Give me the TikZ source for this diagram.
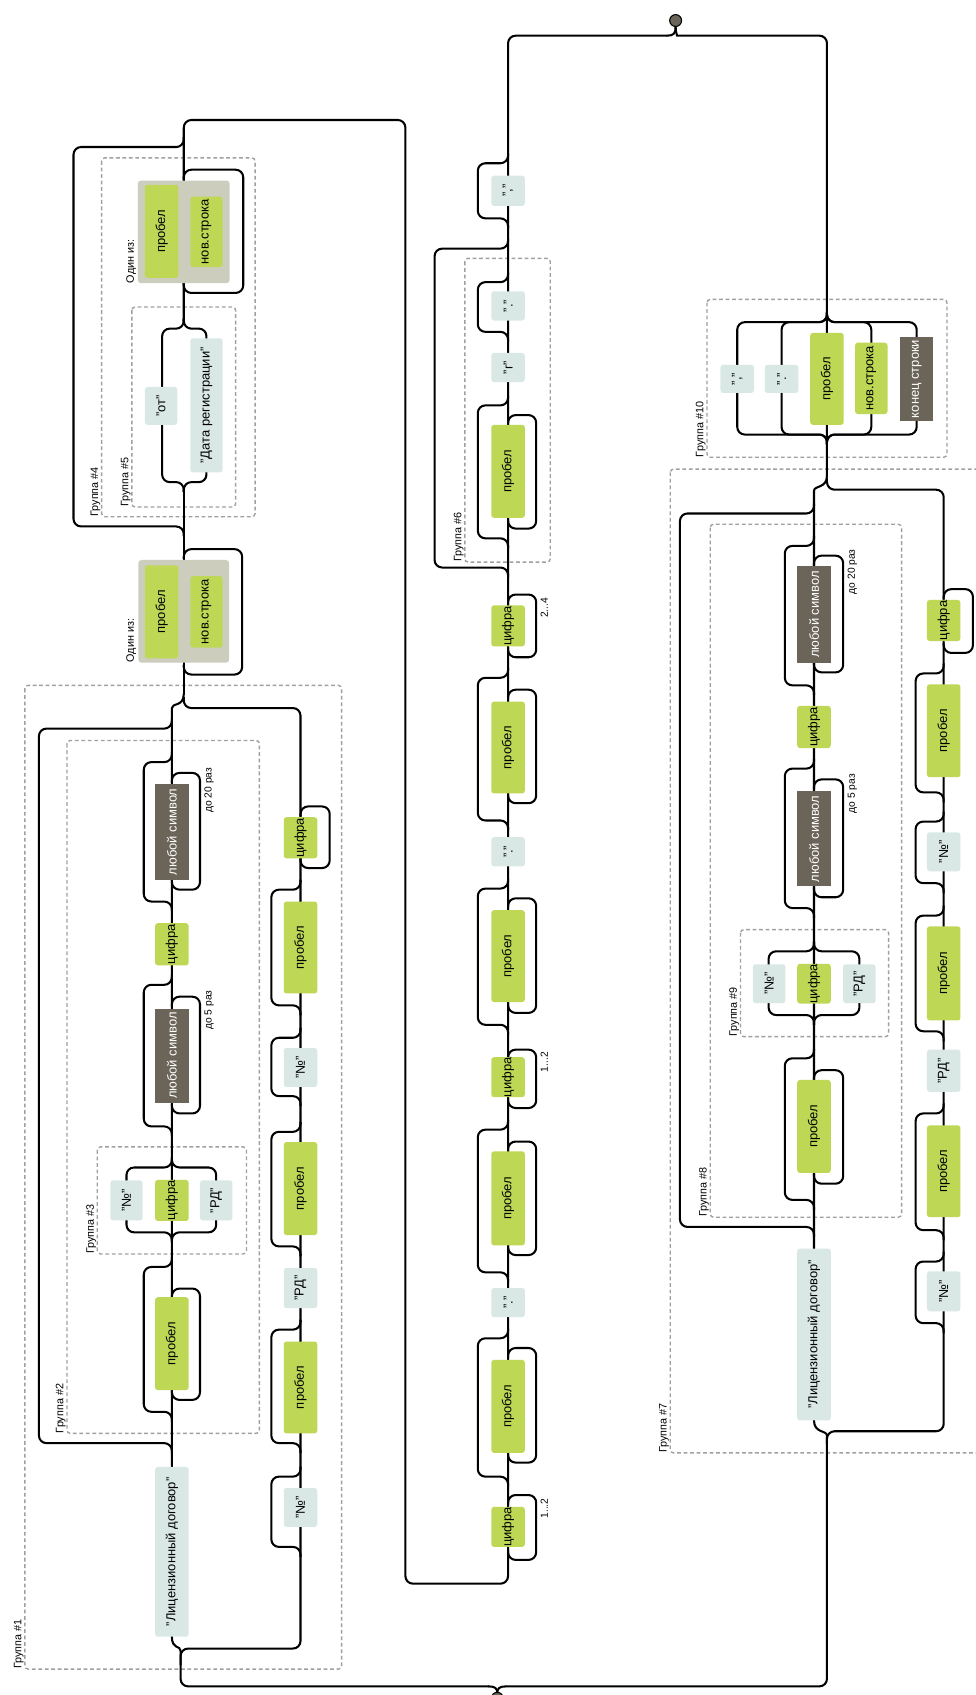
\documentclass[tikz,border=0pt]{standalone}
\usepackage{fontspec}
\setmainfont{Liberation Sans}
\usepackage{graphicx}
\definecolor{grn}{RGB}{190,215,85}
\definecolor{lit}{RGB}{218,232,229}
\definecolor{drk}{RGB}{107,100,88}
\definecolor{onebg}{RGB}{205,205,190}
\definecolor{grpc}{RGB}{160,160,160}
\newcommand\rt[1]{\rotatebox{90}{#1}}
\newcommand\rrBy[4]{\draw[rail] (#1,#3-9) -- (#1,#3) -- (#2,#3) -- (#2,#4) -- (#1,#4) -- (#1,#4+9);}
\newcommand\rrLoop[4]{\draw[rail] (#1,#3+9) -- (#1,#3) -- (#2,#3) -- (#2,#4) -- (#1,#4) -- (#1,#4-9);}
\begin{document}
\begin{tikzpicture}[x=1pt,y=-1pt,
 rail/.style={line width=1.9pt, rounded corners=7pt, line cap=round, line join=round},
 grp/.style={draw=grpc, line width=1.3pt, dash pattern=on 3.5pt off 2.5pt, rounded corners=3pt},
 bx/.style={inner sep=0pt, minimum width=31pt, font=\fontsize{12}{14}\selectfont},
 grnb/.style={bx, fill=grn, rounded corners=2.5pt},
 litb/.style={bx, fill=lit, rounded corners=2.5pt},
 drkb/.style={bx, fill=drk, text=white},
 oneb/.style={fill=onebg, rounded corners=3pt, inner sep=0pt},
 glbl/.style={inner sep=0pt, anchor=south east, font=\fontsize{10}{11}\selectfont},
 rlbl/.style={inner sep=0pt, anchor=north west, font=\fontsize{9.5}{11}\selectfont},
 term/.style={circle, fill=drk, draw=black, line width=1pt, minimum size=11pt, inner sep=0pt}]
\useasboundingbox (0,0) rectangle (902,1568);
\fill[white] (0,0) rectangle (902,1568);
% ---------------- group boxes
\draw[grp] (23,634) rectangle (316,1544);
\draw[grp] (62,685) rectangle (240,1326);
\draw[grp] (90,1061) rectangle (228,1160);
\draw[grp] (94,146) rectangle (236,478);
\draw[grp] (122,284) rectangle (218,469);
\draw[grp] (430,239) rectangle (509,520);
\draw[grp] (620,434) rectangle (915,1344);
\draw[grp] (657,485) rectangle (834,1126);
\draw[grp] (685,860) rectangle (822,959);
\draw[grp] (654,277) rectangle (876,423);
\node[glbl] (lg1) at (22,1544) {\rt{Группа \#1}};
\node[glbl] (lg2) at (61,1326) {\rt{Группа \#2}};
\node[glbl] (lg3) at (89,1160) {\rt{Группа \#3}};
\node[glbl] (lg4) at (93,478) {\rt{Группа \#4}};
\node[glbl] (lg5) at (121,469) {\rt{Группа \#5}};
\node[glbl] (lg6) at (429,520) {\rt{Группа \#6}};
\node[glbl] (lg7) at (619,1344) {\rt{Группа \#7}};
\node[glbl] (lg8) at (656,1126) {\rt{Группа \#8}};
\node[glbl] (lg9) at (684,959) {\rt{Группа \#9}};
\node[glbl] (lg10) at (653,423) {\rt{Группа \#10}};
% ---------------- main rails
\draw[rail] (170,298) -- (170,111) -- (375,111) -- (375,1465) -- (470,1465) -- (470,33) -- (617,33);
\draw[rail] (617,33) .. controls (623,33) and (625,31) .. (625,25);
\draw[rail] (625,25) .. controls (625,31) and (627,33) .. (633,33) -- (765,33) -- (765,440);
\draw[rail] (765,440) .. controls (765,452) and (753,449) .. (753,461) -- (753,1314);
\draw[rail] (753,1314) .. controls (753,1326) and (765,1323) .. (765,1335) -- (765,1560) -- (468,1560);
\draw[rail] (468,1560) .. controls (462,1560) and (460,1562) .. (460,1566);
\draw[rail] (170,452) -- (170,642);
\draw[rail] (170,642) .. controls (170,654) and (159,650) .. (159,662) -- (159,1514);
\draw[rail] (159,1514) .. controls (159,1526) and (167,1522) .. (167,1534) -- (167,1560) -- (452,1560);
\draw[rail] (452,1560) .. controls (458,1560) and (460,1562) .. (460,1566);
% alternatives
\draw[rail] (170,645) -- (170,655) -- (278,655) -- (278,1525) -- (167,1525) -- (167,1540);
\draw[rail] (765,443) -- (765,453) -- (873,453) -- (873,1324) -- (765,1324) -- (765,1336);
% optional groups
\rrBy{170}{68}{136}{487}
\rrBy{159}{36}{674}{1335}
\rrBy{470}{402}{230}{525}
\rrBy{753}{629}{475}{1135}
% choices
\rrBy{170}{150}{304}{446}
\rrBy{170}{191}{304}{446}
\rrBy{159}{117}{1080}{1140}
\rrBy{159}{200}{1080}{1140}
\rrBy{753}{711}{880}{939}
\rrBy{753}{795}{880}{939}
\rrBy{765}{682}{298}{402}
\rrBy{765}{723}{298}{402}
\rrBy{765}{806}{298}{402}
\rrBy{765}{848}{298}{402}
% column A bypasses / loops
\rrLoop{170}{225}{157}{271}
\rrLoop{170}{224}{508}{624}
\rrBy{159}{133}{705}{834}
\rrBy{159}{133}{911}{1042}
\rrBy{159}{133}{1172}{1306}
\rrLoop{159}{185}{715}{823}
\rrLoop{159}{185}{922}{1030}
\rrLoop{159}{185}{1192}{1295}
\rrLoop{278}{305}{746}{803}
\rrBy{278}{251}{823}{930}
\rrBy{278}{251}{960}{1014}
\rrBy{278}{251}{1047}{1153}
\rrBy{278}{251}{1230}{1335}
\rrBy{278}{251}{1366}{1431}
% column B
\rrBy{470}{442}{151}{202}
\rrBy{470}{442}{261}{307}
\rrBy{470}{442}{375}{498}
\rrBy{470}{442}{627}{759}
\rrBy{470}{442}{822}{948}
\rrBy{470}{442}{1045}{1177}
\rrBy{470}{442}{1238}{1366}
\rrLoop{470}{496}{384}{489}
\rrLoop{470}{496}{550}{608}
\rrLoop{470}{496}{638}{743}
\rrLoop{470}{496}{831}{937}
\rrLoop{470}{496}{971}{1025}
\rrLoop{470}{496}{1056}{1161}
\rrLoop{470}{496}{1247}{1353}
\rrLoop{470}{496}{1383}{1443}
% column C
\rrBy{753}{726}{505}{634}
\rrBy{753}{726}{711}{840}
\rrBy{753}{726}{979}{1110}
\rrLoop{753}{780}{514}{622}
\rrLoop{753}{780}{721}{830}
\rrLoop{753}{780}{990}{1095}
\rrLoop{873}{900}{545}{604}
\rrBy{873}{847}{623}{733}
\rrBy{873}{847}{760}{817}
\rrBy{873}{847}{847}{954}
\rrBy{873}{847}{1030}{1138}
\rrBy{873}{847}{1167}{1224}
% ---------------- boxes column A
\node[oneb, minimum width=85pt, minimum height=95pt] (oneA) at (170,214.5) {};
\node[grnb, minimum height=86pt] (oneAsp) at (149.5,214) {\rt{пробел}};
\node[grnb, minimum width=30pt, minimum height=65pt] (oneAnl) at (191,214.5) {\rt{нов.строка}};
\node[glbl] (oneAl) at (126,262) {\rt{Один из:}};
\node[litb, minimum width=30pt, minimum height=35pt] (ot) at (149,375.5) {\rt{"от"}};
\node[litb, minimum width=30pt, minimum height=124pt] (dreg) at (191,375) {\rt{"Дата регистрации"}};
\node[oneb, minimum width=84pt, minimum height=95pt] (oneB) at (170,565.5) {};
\node[grnb, minimum height=86pt] (oneBsp) at (149.5,566) {\rt{пробел}};
\node[grnb, minimum width=30pt, minimum height=66pt] (oneBnl) at (191,566) {\rt{нов.строка}};
\node[glbl] (oneBl) at (126,613) {\rt{Один из:}};
\node[drkb, minimum height=89pt] (a20) at (159,769.5) {\rt{любой символ}};
\node[rlbl] (a20l) at (189,710) {\rt{до 20 раз}};
\node[grnb, minimum height=39pt] (adg) at (159,873.5) {\rt{цифра}};
\node[drkb, minimum height=87pt] (a5) at (159,976.5) {\rt{любой символ}};
\node[rlbl] (a5l) at (189,916) {\rt{до 5 раз}};
\node[litb, minimum width=30pt, minimum height=37pt] (g3no) at (117,1110.5) {\rt{"№"}};
\node[grnb, minimum height=38pt] (g3dg) at (159,1110.5) {\rt{цифра}};
\node[litb, minimum width=30pt, minimum height=37pt] (g3rd) at (200,1110.5) {\rt{"РД"}};
\node[grnb, minimum height=86pt] (asp) at (159,1243) {\rt{пробел}};
\node[litb, minimum height=157pt] (alic) at (159,1435.5) {\rt{"Лицензионный договор"}};
\node[grnb, minimum height=38pt] (bdg) at (278,775) {\rt{цифра}};
\node[grnb, minimum height=85pt] (bsp1) at (278,876.5) {\rt{пробел}};
\node[litb, minimum height=36pt] (bno1) at (278,987.5) {\rt{"№"}};
\node[grnb, minimum height=86pt] (bsp2) at (278,1099.5) {\rt{пробел}};
\node[litb, minimum height=37pt] (brd) at (278,1191.5) {\rt{"РД"}};
\node[grnb, minimum height=85pt] (bsp3) at (278,1283.5) {\rt{пробел}};
\node[litb, minimum height=36pt] (bno2) at (278,1394.5) {\rt{"№"}};
% ---------------- boxes column B
\node[litb, minimum height=28pt] (ccomma) at (470,176.5) {\rt{","}};
\node[litb, minimum height=27pt] (cdot1) at (470,283) {\rt{"."}};
\node[litb, minimum height=27pt] (cg) at (470,340) {\rt{"г"}};
\node[grnb, minimum height=86pt] (csp1) at (470,436) {\rt{пробел}};
\node[grnb, minimum height=38pt] (cdg1) at (470,579) {\rt{цифра}};
\node[rlbl] (cdg1l) at (500,553) {\rt{2...4}};
\node[grnb, minimum height=85pt] (csp2) at (470,691.5) {\rt{пробел}};
\node[litb, minimum height=27pt] (cdot2) at (470,788) {\rt{"."}};
\node[grnb, minimum height=85pt] (csp3) at (470,884.5) {\rt{пробел}};
\node[grnb, minimum height=37pt] (cdg2) at (470,996.5) {\rt{цифра}};
\node[rlbl] (cdg2l) at (500,973) {\rt{1...2}};
\node[grnb, minimum height=87pt] (csp4) at (470,1108.5) {\rt{пробел}};
\node[litb, minimum height=27pt] (cdot3) at (470,1205) {\rt{"."}};
\node[grnb, minimum height=86pt] (csp5) at (470,1301) {\rt{пробел}};
\node[grnb, minimum height=37pt] (cdg3) at (470,1412.5) {\rt{цифра}};
\node[rlbl] (cdg3l) at (500,1386) {\rt{1...2}};
% ---------------- boxes column C
\node[litb, minimum height=26pt] (dcomma) at (682,350.5) {\rt{","}};
\node[litb, minimum height=26pt] (ddot) at (723,350.5) {\rt{"."}};
\node[grnb, minimum height=85pt] (dsp) at (765,350.5) {\rt{пробел}};
\node[grnb, minimum width=30pt, minimum height=66pt] (dnl) at (806,350) {\rt{нов.строка}};
\node[drkb, minimum width=30pt, minimum height=77pt] (dend) at (848,350.5) {\rt{конец строки}};
\node[drkb, minimum height=89pt] (e20) at (753,568.5) {\rt{любой символ}};
\node[rlbl] (e20l) at (784,508) {\rt{до 20 раз}};
\node[grnb, minimum height=39pt] (edg) at (753,672.5) {\rt{цифра}};
\node[drkb, minimum height=88pt] (e5) at (753,776) {\rt{любой символ}};
\node[rlbl] (e5l) at (784,716) {\rt{до 5 раз}};
\node[litb, minimum width=30pt, minimum height=36pt] (g9no) at (711.5,910) {\rt{"№"}};
\node[grnb, minimum height=36pt] (g9dg) at (753,910) {\rt{цифра}};
\node[litb, minimum width=30pt, minimum height=36pt] (g9rd) at (795,910) {\rt{"РД"}};
\node[grnb, minimum height=86pt] (esp) at (753,1042) {\rt{пробел}};
\node[litb, minimum height=159pt] (elic) at (753,1234.5) {\rt{"Лицензионный договор"}};
\node[grnb, minimum height=38pt] (fdg) at (873,574) {\rt{цифра}};
\node[grnb, minimum height=86pt] (fsp1) at (873,676) {\rt{пробел}};
\node[litb, minimum height=36pt] (fno1) at (873,788) {\rt{"№"}};
\node[grnb, minimum height=87pt] (fsp2) at (873,900.5) {\rt{пробел}};
\node[litb, minimum height=39pt] (frd) at (873,990.5) {\rt{"РД"}};
\node[grnb, minimum height=85pt] (fsp3) at (873,1083.5) {\rt{пробел}};
\node[litb, minimum height=37pt] (fno2) at (873,1194.5) {\rt{"№"}};
% ---------------- terminals
\node[term] (endc) at (625,19) {};
\node[term] (startc) at (460,1571) {};
\end{tikzpicture}
\end{document}
